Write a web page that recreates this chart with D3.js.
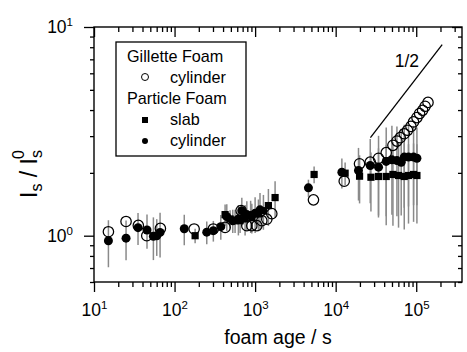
<!DOCTYPE html>
<html><head><meta charset="utf-8">
<script src="https://cdn.jsdelivr.net/npm/d3@7"></script>
<style>
body{margin:0;background:#fff}
text{font-family:"Liberation Sans",Arial,Helvetica,sans-serif;fill:#000}
</style>
</head><body>
<svg id="c" width="467" height="352"></svg>
<script>
// ---------- data ----------
const gilletteAge = [15.1, 25, 35.5, 45.2, 66.7, 175, 303, 424, 670, 789, 910, 1050, 1211, 1397, 1611,
  5300, 12770, 19770, 26860, 34050, 42400, 51360, 57600, 63300, 71000, 78000, 86000, 92600,
  102000, 110000, 120000, 129000, 140000];
const gilletteRatio = [1.045, 1.17, 1.12, 1.0, 1.084, 1.077, 1.077, 1.096, 1.32, 1.117, 1.117, 1.117, 1.18, 1.2, 1.275,
  1.485, 1.824, 2.21, 2.25, 2.35, 2.5, 2.71, 2.84, 2.95, 3.08, 3.2, 3.34, 3.51,
  3.68, 3.85, 3.99, 4.17, 4.35];

const slabAge = [180, 424, 489, 564, 651, 751, 910, 1099, 1268, 1462, 1770,
  5400, 13100, 19800, 27400, 34000, 42400, 51400, 60300, 71000, 80200, 92700, 102000];
const slabRatio = [1.0, 1.262, 1.203, 1.18, 1.18, 1.203, 1.224, 1.271, 1.318, 1.394, 1.523,
  1.965, 1.993, 1.928, 1.906, 1.922, 1.922, 1.965, 1.943, 1.922, 1.943, 1.965, 1.943];
const slabErr = [0.08, 0.15, 0.12, 0.15, 0.15, 0.2, 0.2, 0.22, 0.25, 0.28, 0.3,
  0.18, 0.25, 0.5, 0.6, 0.7, 0.8, 0.85, 0.85, 0.85, 0.8, 0.8, 0.8];

const cylAge = [15.1, 25, 35.2, 45.5, 54.6, 60.1, 66.1, 132, 251, 303, 375, 445, 528, 620, 684, 789, 880, 1000, 1150,
  4590, 11940, 19200, 26860, 34050, 42400, 49900, 57600, 65100, 71000, 80200, 92700, 102000];
const cylRatio = [0.946, 0.973, 1.093, 1.065, 0.994, 1.0, 1.037, 1.08, 1.04, 1.057, 1.105, 1.234, 1.18, 1.203, 1.318, 1.262, 1.25, 1.28, 1.33,
  1.695, 2.015, 2.054, 2.17, 2.13, 2.27, 2.31, 2.29, 2.25, 2.38, 2.38, 2.38, 2.35];
const cylErr = [0.24, 0.21, 0.19, 0.2, 0.23, 0.2, 0.25, 0.18, 0.13, 0.12, 0.15, 0.18, 0.15, 0.2, 0.2, 0.2, 0.22, 0.25, 0.27,
  0.16, 0.33, 0.58, 0.74, 0.88, 1.03, 1.05, 1.05, 1.0, 1.02, 1.0, 0.98, 0.95];

const slopeX = [2.7e4, 2.1e5];
const slopeY = [2.95, 8.23];
const slopeLabel = "1/2";

const xMajor = [1e1, 1e2, 1e3, 1e4, 1e5];
const xExp = ["1", "2", "3", "4", "5"];
const yMajor = [1, 10];
const yExp = ["0", "1"];
const xTitle = "foam age / s";
const legendTitles = ["Gillette Foam", "Particle Foam"];
const legendLabels = ["cylinder", "slab", "cylinder"];

// ---------- layout ----------
const L = 94, R = 462, T = 27, B = 282;
const svg = d3.select("#c");
const x = d3.scaleLog().domain([10, 3.7e5]).range([L, R]);
const y = d3.scaleLog().domain([0.6, 10]).range([B, T]);

const xMinor = [];
for (let d = 10; d <= 1e5; d *= 10) for (let k = 2; k <= 9; k++) if (k * d <= 3.7e5) xMinor.push(k * d);
const yMinor = [0.6, 0.7, 0.8, 0.9];
for (let k = 2; k <= 9; k++) yMinor.push(k);

const FS = 17.5, LFS = 16.2;
function styleAxis(g) {
  g.select(".domain").remove();
  g.selectAll("line").attr("stroke", "#000").attr("stroke-width", 1.3);
}
function addExp(g, exps, vals) {
  g.selectAll(".tick text").each(function(d) {
    const i = vals.indexOf(d);
    d3.select(this).append("tspan").attr("dy", -7).attr("font-size", 11.5).text(exps[i]);
  });
  g.selectAll("text").attr("font-size", FS).attr("fill", "#000");
}

// bottom
svg.append("g").attr("transform", `translate(0,${B})`)
  .call(d3.axisBottom(x).tickValues(xMinor).tickSize(5).tickFormat("")).call(styleAxis);
const gb = svg.append("g").attr("transform", `translate(0,${B})`)
  .call(d3.axisBottom(x).tickValues(xMajor).tickSize(10).tickPadding(12).tickFormat(() => "10"));
styleAxis(gb); addExp(gb, xExp, xMajor);
// top (inward)
svg.append("g").attr("transform", `translate(0,${T})`)
  .call(d3.axisBottom(x).tickValues(xMinor).tickSize(5).tickFormat("")).call(styleAxis);
svg.append("g").attr("transform", `translate(0,${T})`)
  .call(d3.axisBottom(x).tickValues(xMajor).tickSize(10).tickFormat("")).call(styleAxis);
// left
svg.append("g").attr("transform", `translate(${L},0)`)
  .call(d3.axisLeft(y).tickValues(yMinor).tickSize(4).tickFormat("")).call(styleAxis);
const gl = svg.append("g").attr("transform", `translate(${L},0)`)
  .call(d3.axisLeft(y).tickValues(yMajor).tickSize(10).tickPadding(11).tickFormat(() => "10"));
styleAxis(gl); addExp(gl, yExp, yMajor);
// right (inward)
svg.append("g").attr("transform", `translate(${R},0)`)
  .call(d3.axisLeft(y).tickValues(yMinor).tickSize(4).tickFormat("")).call(styleAxis);
svg.append("g").attr("transform", `translate(${R},0)`)
  .call(d3.axisLeft(y).tickValues(yMajor).tickSize(10).tickFormat("")).call(styleAxis);

// frame
svg.append("rect").attr("x", L).attr("y", T).attr("width", R - L).attr("height", B - T)
  .attr("fill", "none").attr("stroke", "#000").attr("stroke-width", 1.4);

// titles
svg.append("text").attr("x", (L + R) / 2).attr("y", 344).attr("text-anchor", "middle")
  .attr("font-size", 19.5).text(xTitle);
const yt = svg.append("text").attr("transform", "translate(37,174) rotate(-90)")
  .attr("text-anchor", "middle").attr("font-size", 23);
yt.append("tspan").text("I");
yt.append("tspan").attr("dy", 5).attr("font-size", 16).text("s");
yt.append("tspan").attr("dy", -5).text(" / I");
yt.append("tspan").attr("dy", 5).attr("font-size", 16).text("s");
yt.append("tspan").attr("dy", -18).attr("dx", -9).attr("font-size", 16).text("0");

// data layer
const plot = svg.append("g");
function errBars(ages, vals, errs) {
  plot.append("g").selectAll("line").data(ages).join("line")
    .attr("x1", d => x(d)).attr("x2", d => x(d))
    .attr("y1", (d, i) => y(vals[i] + errs[i]))
    .attr("y2", (d, i) => y(Math.max(0.6, vals[i] - errs[i])))
    .attr("stroke", "#8a8a8a").attr("stroke-width", 1.5);
}
errBars(cylAge, cylRatio, cylErr);
errBars(slabAge, slabRatio, slabErr);

plot.append("g").selectAll("rect").data(slabAge).join("rect")
  .attr("x", d => x(d) - 3.6).attr("y", (d, i) => y(slabRatio[i]) - 3.6)
  .attr("width", 7.2).attr("height", 7.2).attr("fill", "#000");
plot.append("g").selectAll("circle").data(cylAge).join("circle")
  .attr("cx", d => x(d)).attr("cy", (d, i) => y(cylRatio[i])).attr("r", 4.5).attr("fill", "#000");
plot.append("g").selectAll("circle").data(gilletteAge).join("circle")
  .attr("cx", d => x(d)).attr("cy", (d, i) => y(gilletteRatio[i])).attr("r", 5.2)
  .attr("fill", "none").attr("stroke", "#000").attr("stroke-width", 1.25);

// slope guide
svg.append("line").attr("x1", x(slopeX[0])).attr("y1", y(slopeY[0]))
  .attr("x2", x(slopeX[1])).attr("y2", y(slopeY[1])).attr("stroke", "#000").attr("stroke-width", 1.3);
svg.append("text").attr("x", 419).attr("y", 67).attr("text-anchor", "end").attr("font-size", FS).text(slopeLabel);

// legend
const lg = svg.append("g");
lg.append("rect").attr("x", 116).attr("y", 42).attr("width", 130).attr("height", 114)
  .attr("fill", "#fff").attr("stroke", "#000").attr("stroke-width", 1.3);
lg.append("text").attr("x", 127).attr("y", 62).attr("font-size", LFS).text(legendTitles[0]);
lg.append("circle").attr("cx", 145).attr("cy", 77).attr("r", 3.5).attr("fill", "none").attr("stroke", "#000").attr("stroke-width", 1);
lg.append("text").attr("x", 170).attr("y", 83).attr("font-size", LFS).text(legendLabels[0]);
lg.append("text").attr("x", 127).attr("y", 104).attr("font-size", LFS).text(legendTitles[1]);
lg.append("rect").attr("x", 142).attr("y", 117).attr("width", 6).attr("height", 6).attr("fill", "#000");
lg.append("text").attr("x", 170).attr("y", 125).attr("font-size", LFS).text(legendLabels[1]);
lg.append("circle").attr("cx", 145).attr("cy", 141).attr("r", 3).attr("fill", "#000");
lg.append("text").attr("x", 170).attr("y", 146).attr("font-size", LFS).text(legendLabels[2]);
</script>
</body></html>
